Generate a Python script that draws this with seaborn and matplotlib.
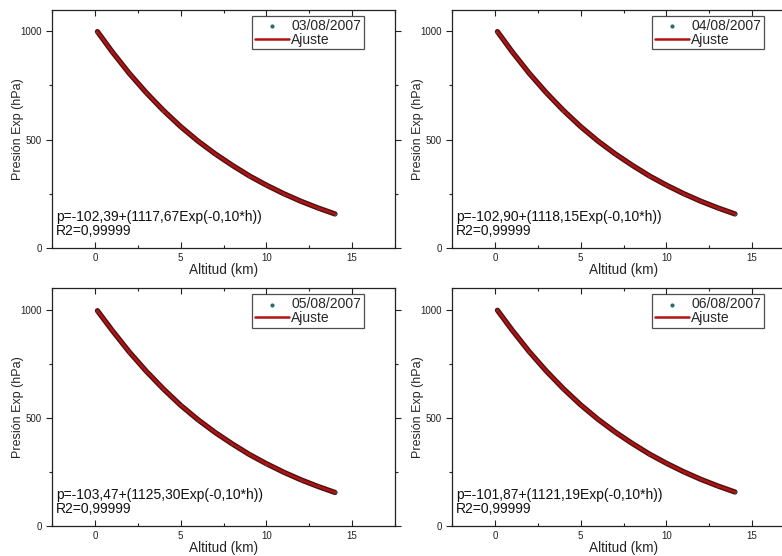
import matplotlib
matplotlib.use("Agg")
import matplotlib.pyplot as plt
from matplotlib.ticker import MultipleLocator
import seaborn as sns
import pandas as pd

sns.set_style("ticks")
plt.rcParams['font.family'] = ['Liberation Sans', 'DejaVu Sans']

altitud = [0.15, 1, 2, 3, 4, 5, 6, 7, 8, 9, 10, 11, 12, 13, 14]

# Pressure (hPa)
p_0308 = [998, 906, 806, 716, 634, 560, 494, 435, 382, 333, 290, 251, 216, 185, 157]
p_0408 = [998, 906, 806, 716, 634, 560, 494, 435, 382, 333, 290, 251, 216, 185, 157]
p_0508 = [995, 905, 805, 715, 633, 558, 492, 433, 380, 331, 288, 249, 214, 183, 155]
p_0608 = [997, 906, 806, 716, 634, 560, 494, 435, 382, 333, 290, 251, 216, 185, 157]

fechas = ["03/08/2007", "04/08/2007", "05/08/2007", "06/08/2007"]
ecuaciones = ["p=-102,39+(1117,67Exp(-0,10*h))",
              "p=-102,90+(1118,15Exp(-0,10*h))",
              "p=-103,47+(1125,30Exp(-0,10*h))",
              "p=-101,87+(1121,19Exp(-0,10*h))"]
r2 = ["R2=0,99999"] * 4
presiones = [p_0308, p_0408, p_0508, p_0608]

W, H = 782, 556
fig = plt.figure(figsize=(W / 100, H / 100), dpi=100)

# pixel boxes: (left, top, right, bottom)
boxes = [(52, 9.5, 395, 248), (452, 9.5, 795, 248),
         (52, 288, 395, 526), (452, 288, 795, 526)]

for i, (l, t, r, b) in enumerate(boxes):
    ax = fig.add_axes([l / W, 1 - b / H, (r - l) / W, (b - t) / H])
    df = pd.DataFrame({"Altitud": altitud, "Presion": presiones[i]})
    # data (dense points drawn as thick dark trace)
    sns.lineplot(data=df, x="Altitud", y="Presion", ax=ax, color="#4a1212",
                 lw=3.8, legend=False, sort=False)
    sns.scatterplot(data=df, x="Altitud", y="Presion", ax=ax, color="#2e6b6b",
                    s=4, linewidth=0, label=fechas[i], zorder=3)
    sns.lineplot(data=df, x="Altitud", y="Presion", ax=ax, color="#b31212",
                 lw=1.8, label="Ajuste", sort=False, zorder=4)

    ax.set_xlim(-2.5, 17.5)
    ax.set_ylim(0, 1100)
    ax.xaxis.set_major_locator(MultipleLocator(5))
    ax.xaxis.set_minor_locator(MultipleLocator(2.5))
    ax.yaxis.set_major_locator(MultipleLocator(500))
    ax.yaxis.set_minor_locator(MultipleLocator(250))
    ax.tick_params(which="both", direction="in", top=True, right=True,
                   labelsize=7, width=0.8, colors="#222222")
    ax.tick_params(axis="y", which="both", direction="out")
    ax.tick_params(which="major", length=4)
    ax.tick_params(which="minor", length=2.5)
    for s in ax.spines.values():
        s.set_linewidth(0.9)
        s.set_color("#222222")
    ax.set_xlabel("Altitud (km)", fontsize=9.8, labelpad=0)
    ax.set_ylabel("Presión Exp (hPa)", fontsize=9, labelpad=-3)

    ax.text(0.012, 0.04, ecuaciones[i] + "\n" + r2[i], transform=ax.transAxes,
            fontsize=10, ha="left", va="bottom", linespacing=1.0,
            color="#111111")

    leg = ax.legend(loc="upper right", bbox_to_anchor=(0.9096, 0.973),
                    borderaxespad=0, fontsize=10, frameon=True, fancybox=False,
                    handlelength=2.5, handletextpad=0.15, borderpad=0.2,
                    labelspacing=0.0, markerscale=1.5)
    leg.get_frame().set_edgecolor("#222222")
    leg.get_frame().set_linewidth(0.9)

fig.savefig("out.png", dpi=100)
